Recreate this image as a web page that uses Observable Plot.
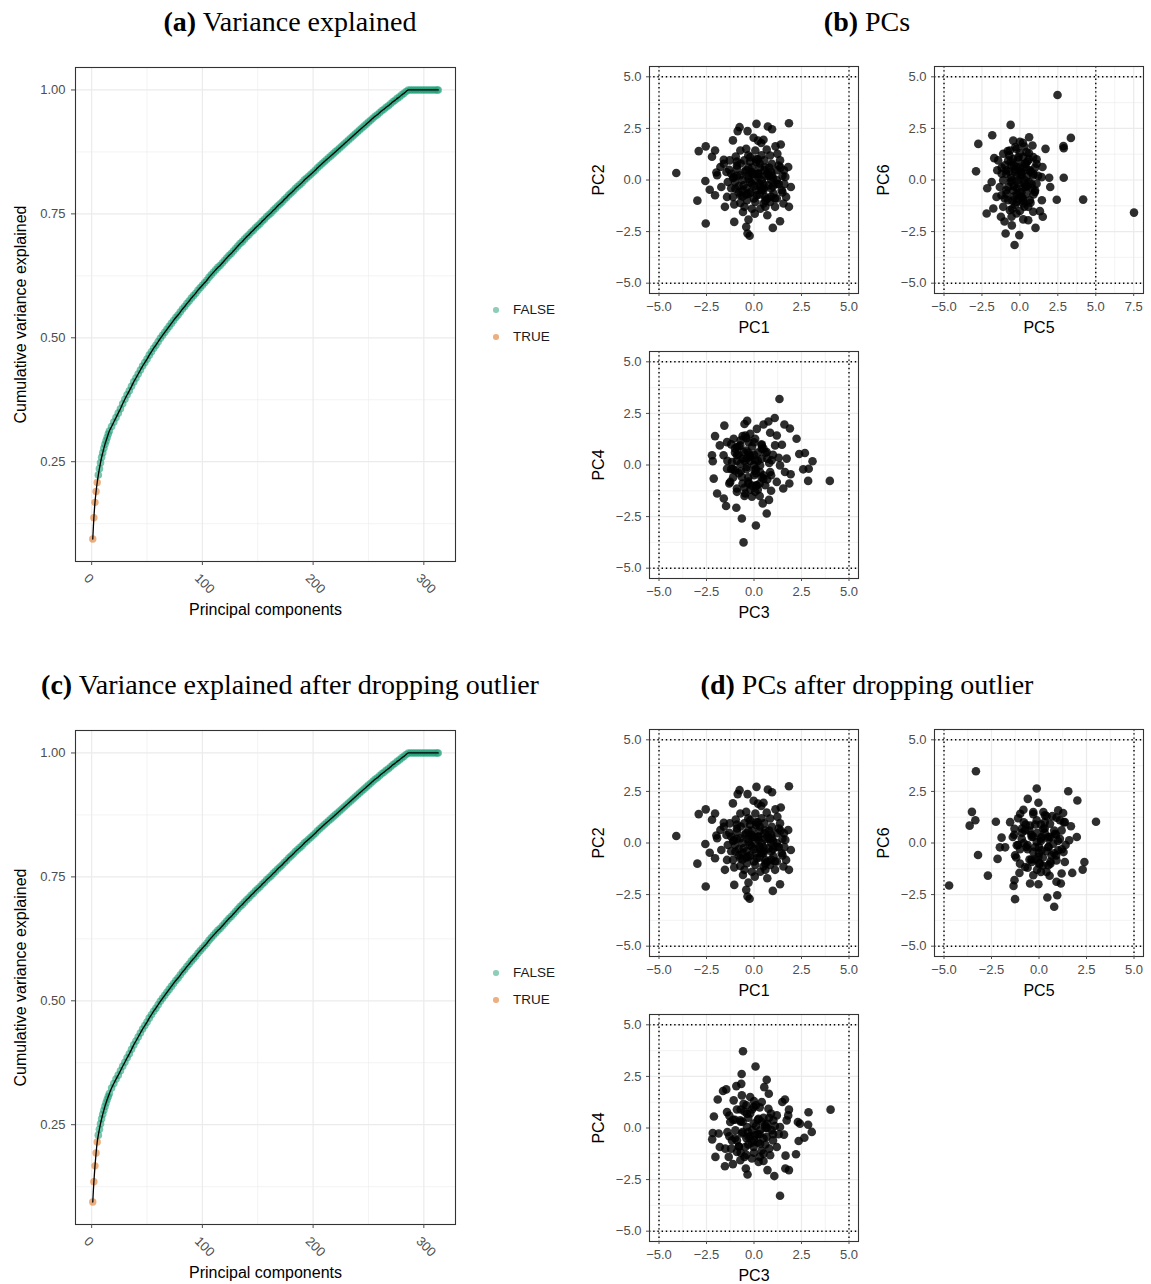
<!DOCTYPE html>
<html><head><meta charset="utf-8">
<script src="https://cdn.jsdelivr.net/npm/d3@7"></script>
<script src="https://cdn.jsdelivr.net/npm/@observablehq/plot@0.6"></script>
<style>
html,body{margin:0;padding:0;background:#fff;overflow:hidden;}
#fig{position:relative;width:1151px;height:1284px;background:#fff;font-family:"Liberation Sans",Arial,sans-serif;}
.title{position:absolute;font-family:"Liberation Serif","Times New Roman",serif;font-size:28px;line-height:34px;white-space:nowrap;transform:translateX(-50%);color:#000;}
.legtxt{position:absolute;font-size:13.5px;line-height:18px;color:#1a1a1a;white-space:nowrap;}
.legdot{position:absolute;width:5.6px;height:5.6px;border-radius:50%;}
</style></head>
<body><div id="fig"></div>
<script>
// ---------- Variance explained data ----------
const varPcs = [1,2,3,4,5,6,7,8,9,10,11,12,13,14,15,16,
  18,20,22,24,26,28,30,32,34,36,38,40,42,44,46,48,50,52,54,56,58,60,62,64,66,68,70,72,74,76,78,80,82,84,86,88,90,92,94,96,98,100,
  102,104,106,108,110,112,114,116,118,120,122,124,126,128,130,132,134,136,138,140,142,144,146,148,150,152,154,156,158,160,162,164,166,168,170,172,174,176,178,180,182,184,186,188,190,192,194,196,198,200,
  202,204,206,208,210,212,214,216,218,220,222,224,226,228,230,232,234,236,238,240,242,244,246,248,250,252,254,256,258,260,262,264,266,268,270,272,274,276,278,280,282,284,286,
  288,290,292,294,296,298,300,302,304,306,308,310,312,313];
const varValA = [0.094,0.137,0.168,0.190,0.208,0.223,0.236,0.248,0.259,0.268,0.277,0.285,0.292,0.299,0.306,0.312,
  0.321,0.330,0.339,0.348,0.357,0.367,0.376,0.385,0.393,0.402,0.411,0.419,0.427,0.435,0.443,0.450,0.457,0.465,0.472,0.479,0.485,0.492,0.499,0.505,0.511,0.517,0.523,0.529,0.535,0.541,0.546,0.552,0.558,0.563,0.569,0.574,0.580,0.585,0.590,0.596,0.601,0.606,
  0.611,0.616,0.622,0.627,0.632,0.637,0.642,0.646,0.651,0.656,0.661,0.666,0.670,0.675,0.680,0.685,0.690,0.694,0.699,0.704,0.708,0.713,0.717,0.722,0.726,0.730,0.735,0.739,0.744,0.748,0.752,0.757,0.761,0.766,0.770,0.774,0.779,0.783,0.788,0.792,0.796,0.801,0.805,0.809,0.813,0.818,0.822,0.826,0.830,0.834,
  0.838,0.843,0.847,0.851,0.855,0.859,0.863,0.867,0.871,0.875,0.879,0.883,0.887,0.891,0.895,0.899,0.903,0.907,0.911,0.915,0.919,0.923,0.927,0.931,0.935,0.939,0.943,0.947,0.950,0.954,0.958,0.961,0.965,0.968,0.972,0.976,0.979,0.983,0.986,0.990,0.993,0.997,1.000,
  1.000,1.000,1.000,1.000,1.000,1.000,1.000,1.000,1.000,1.000,1.000,1.000,1.000,1.000];
// (c): first components differ slightly after dropping the outlier (PCs 1-16, 18-30); the tail is shared
const varValCHead = [0.094,0.135,0.167,0.193,0.215,0.229,0.241,0.252,0.262,0.271,0.279,0.287,0.294,0.301,0.307,0.313,
  0.324,0.333,0.342,0.350,0.359,0.368,0.376];
const varValC = varValCHead.concat(varValA.slice(varValCHead.length));
const nTrueA = 5, nTrueC = 5;
const varXTicks = [0,100,200,300];
const varXMinor = [50,150,250];
const varYTicks = [0.25,0.50,0.75,1.00];
const varYMinor = [0.125,0.375,0.625,0.875];
const legendLabels = ["FALSE","TRUE"];
const legendColors = ["#1B9E77","#D95F02"];

// ---------- PC scatter data: (b) ----------
const b_pc1 = [-4.09,-2.54,-2.91,-2.05,-2.21,-2.56,-2.33,-2.98,-2.05,-2.54,-1.53,-1.04,-1.98,-1.59,-0.76,-0.86,-1.11,-0.34,0.13,0.73,0.95,1.84,-0.02,0.21,0.50,0.38,1.13,1.41,0.67,1.80,1.94,1.84,0.99,1.37,0.70,-0.23,-0.34,-0.41,-0.29,0.04,-0.58,-1.04,-0.72,0.33,1.11,1.55,1.69,1.65,1.58,1.37,1.23,-1.28,-1.77,-1.94,-1.72,-1.42,-0.96,-0.51,-0.20,0.12,0.54,0.94,1.20,0.94,0.54,0.24,-0.11,-0.41,-0.72,-1.07,-1.38,-0.98,-0.55,-0.11,0.33,0.77,1.20,1.46,1.03,0.59,0.15,-0.29,-0.72,-1.11,-0.37,0.07,0.50,0.85,-0.11,0.24,0.07,-0.29,0.41,-0.90,-0.72,-0.41,0.07,0.85,-1.45,-1.59,0.3,0.6,-0.4,0.9,0.1,-0.6,0.7,-0.2,0.5,1.0,-0.8,0.2,-0.3,0.8,1.3,-1.2,0.0,0.4,-0.5,1.5,0.6,-0.1,0.9,-0.9,0.3,
  -1.3,-1.0,-0.7,-0.4,-0.1,0.2,0.5,0.8,1.1,1.4,-1.2,-0.9,-0.6,-0.3,0.0,0.3,0.6,0.9,1.2,1.5,-1.1,-0.8,-0.5,-0.2,0.1,0.4,0.7,1.0,1.3,1.6,-0.9,-0.6,-0.3,0.0,0.3,0.6,0.9,1.2,-0.2,0.5];
const b_pc2 = [0.34,1.63,1.40,1.43,1.13,-0.05,-0.47,-1.00,-0.74,-2.11,-1.30,-2.03,0.36,0.98,2.56,2.37,1.92,2.37,2.72,2.59,2.46,2.75,2.05,1.91,1.95,1.79,1.63,1.72,1.47,0.63,-0.34,-1.30,-2.32,-2.00,-1.71,-2.70,-2.59,-2.27,-1.92,-1.63,-1.55,-1.18,-1.11,-1.39,-1.30,-1.14,-0.82,0.15,0.47,0.95,1.27,0.95,0.63,0.23,-0.34,-0.82,1.14,0.95,1.11,0.87,0.95,0.79,0.47,0.23,0.47,0.31,0.39,0.47,0.23,0.15,-0.10,-0.42,-0.26,-0.18,-0.34,-0.26,-0.18,-0.50,-0.66,-0.82,-0.74,-0.66,-0.74,-0.82,-0.98,-1.06,-1.14,-1.06,-1.39,0.15,-0.02,0.06,-0.02,0.55,1.43,1.51,1.43,1.19,0.39,0.79,0.6,0.2,-0.4,-0.4,-0.5,0.0,-0.9,0.9,-0.5,0.1,-0.3,0.3,0.2,0.6,-0.2,0.3,-0.9,1.2,-1.3,0.2,-1.3,0.6,-0.8,0.7,-0.2,
  0.5,-0.1,0.8,-0.7,0.3,1.0,-0.4,0.2,-0.9,0.6,-0.4,0.2,-0.8,0.6,-0.3,0.8,-1.0,0.4,0.0,-0.6,0.1,-0.6,0.4,-0.1,1.0,-0.5,0.3,-0.3,0.7,-0.2,0.9,-0.5,1.2,0.3,-0.7,0.6,0.0,-0.9,-0.6,-0.2];
const b_pc5 = [2.48,7.52,4.17,3.36,2.87,2.89,2.89,2.43,1.69,1.93,2.00,1.51,1.03,0.61,-0.61,-1.82,-2.74,-2.89,-2.15,-2.19,-1.75,-0.94,-0.04,-0.35,-0.53,-1.01,-1.25,-0.44,0.00,0.29,0.83,-1.86,-1.69,-1.49,1.45,1.32,0.88,0.55,0.22,-0.22,-0.66,-1.10,-1.54,-1.32,-1.43,-1.10,-0.66,-0.22,0.44,0.88,1.10,1.49,1.43,1.10,0.99,0.66,0.22,-0.22,-0.77,-1.21,-1.10,-0.88,-0.77,-0.44,-0.11,0.33,0.66,0.44,0.11,-0.33,-0.55,-0.11,0.33,0.00,-0.44,-0.77,0.44,0.77,-0.22,0.22,-0.55,-0.99,-0.88,0.11,0.88,0.55,-0.55,0.1,-0.3,0.4,-0.6,0.2,-0.2,0.7,-0.9,0.0,0.5,-0.5,0.3,-1.2,1.0,-0.1,0.6,-0.7,0.2,-0.4,0.9,
  -1.2,-0.9,-0.6,-0.3,0.0,0.3,0.6,0.9,1.2,-1.0,-0.7,-0.4,-0.1,0.2,0.5,0.8,1.1,-0.8,-0.5,-0.2,0.1,0.4,0.7,1.0,-0.6,-0.3,0.0,0.3,0.6,-0.4,-0.1,0.2,0.5,-0.2,0.1];
const b_pc6 = [4.12,-1.58,-0.95,2.04,1.64,1.54,0.11,-0.96,1.51,0.11,-0.34,-1.78,-2.32,2.07,2.67,2.17,1.75,0.42,-0.40,-1.62,-1.38,-2.59,-2.67,-3.15,-2.20,-2.01,-1.78,1.91,1.85,1.62,1.67,-0.10,1.06,0.47,-0.98,-1.51,-1.54,-1.95,-1.91,-1.62,-1.46,-1.30,-0.82,-0.34,0.95,1.27,1.43,1.51,1.35,1.11,0.79,0.63,0.14,-0.18,-0.58,-0.98,-1.14,-1.06,-0.98,-0.74,-0.02,0.47,0.95,1.03,0.95,0.79,0.47,0.14,0.31,0.39,-0.02,-0.18,-0.34,-0.58,-0.50,-0.34,-0.66,-0.18,0.63,1.11,0.71,0.71,-0.66,-0.82,0.22,-1.30,-1.78,0.2,0.5,-0.3,0.1,-0.9,-0.4,0.4,0.3,1.3,0.9,-1.0,-1.3,0.6,-0.5,0.0,-0.1,1.2,0.6,-0.8,0.3,
  0.3,-0.5,0.9,-1.2,0.6,-0.2,1.3,-0.7,0.2,-0.9,0.4,-0.3,1.1,-1.0,0.5,-0.4,1.0,1.4,-1.4,0.2,-0.6,0.8,-1.1,0.6,-0.1,1.6,-1.5,0.0,1.0,0.7,-0.9,1.8,-0.3,-0.7,0.4];
const b_pc3 = [1.34,3.99,2.85,2.59,2.88,3.08,2.68,2.38,2.24,1.89,1.60,1.09,0.76,0.50,-0.36,-0.50,-1.56,-2.05,-2.21,-2.17,-2.12,-1.94,-1.59,-1.47,-0.93,-0.64,0.10,-0.55,0.67,0.79,0.46,0.90,1.54,1.86,1.93,1.63,1.72,1.30,1.47,1.20,0.85,-0.11,-0.46,-0.90,-1.25,-1.42,-1.60,-1.80,-1.42,-1.07,-0.72,-0.29,0.06,0.41,0.67,0.93,0.85,0.50,0.15,-0.29,-0.64,-0.99,-1.16,-0.90,-0.55,-0.20,0.06,0.32,0.03,-0.38,-0.72,-0.38,0.32,0.59,0.06,0.41,-0.20,0.15,-0.90,-0.46,1.11,1.37,1.20,-0.5,0.0,-0.3,0.2,-0.8,0.4,-0.1,-0.6,0.7,-1.0,0.1,-0.4,0.5,-0.7,0.3,-1.2,0.9,-0.2,0.0,-0.9,
  -1.4,-1.1,-0.8,-0.5,-0.2,0.1,0.4,0.7,1.0,-1.3,-1.0,-0.7,-0.4,-0.1,0.2,0.5,0.8,-1.2,-0.9,-0.6,-0.3,0.0,0.3,0.6,-1.1,-0.8,-0.5,-0.2,0.1,0.4,-0.6,-0.3,0.0,-0.4,0.2];
const b_pc4 = [3.20,-0.77,-0.77,-0.21,-0.18,0.18,0.58,0.53,1.27,1.77,1.96,2.28,2.11,1.96,2.14,1.99,1.91,1.40,0.47,0.18,-0.66,-1.38,-1.62,-1.99,-2.07,-2.59,-2.93,-3.75,-2.35,-1.69,-1.86,-1.25,-1.14,-0.90,-0.45,-0.34,0.31,0.35,0.98,1.43,1.56,-1.54,-1.38,-1.14,-0.82,-0.18,0.47,0.95,1.11,1.27,0.95,1.11,1.27,0.95,0.63,0.23,-0.34,-0.66,-0.98,-0.90,-0.58,-0.26,0.14,0.47,0.63,0.47,0.23,-0.02,-0.26,-0.10,0.06,0.31,-0.34,-0.98,-1.30,0.79,1.51,1.75,0.87,1.43,0.95,-0.02,-0.82,0.2,-0.5,0.6,0.2,-0.4,-0.6,0.9,-0.9,0.3,0.6,-1.0,-0.2,0.8,1.2,-1.5,-0.2,-0.5,-1.2,0.5,0.2,
  0.2,-0.6,0.9,-1.1,0.4,-0.2,1.0,-0.7,0.5,-0.9,0.8,-0.3,1.3,-1.0,0.6,-0.5,0.1,1.0,-1.3,0.3,-0.6,1.1,-0.9,0.6,-0.2,0.5,-1.5,0.2,-0.4,0.3,1.4,-0.8,0.0,0.7,-1.2];

// ---------- PC scatter data: (d) after dropping outlier ----------
const d_pc1 = b_pc1;
const d_pc2 = b_pc2;
const d_pc5 = [-3.32,-3.53,-3.35,-3.65,-3.21,-4.73,-2.69,-2.18,-2.27,-1.97,-2.06,-1.78,-0.12,-0.59,-0.03,1.54,2.02,3.00,1.99,2.39,2.30,1.75,0.96,0.44,0.80,-1.26,-1.34,-1.29,-1.03,-0.47,-0.03,-0.30,0.10,0.56,0.92,1.15,1.19,1.36,1.29,1.59,1.68,1.36,1.01,1.27,0.92,0.31,-0.82,-0.99,-1.52,-1.29,-1.38,-1.17,-1.26,-1.00,-0.73,-0.38,0.05,0.49,0.92,1.01,0.75,0.49,0.23,-0.12,-0.47,-0.73,-0.91,-0.65,-0.30,0.14,0.49,-0.12,0.14,-0.38,0.84,1.19,0.58,-0.03,0.23,0.66,0.1,-0.4,0.5,-0.6,0.2,-0.2,0.8,-0.9,0.4,-0.5,0.6,-1.1,1.1,0.0,-0.3,0.9,-0.8,0.3,-0.1,1.3,
  -1.3,-1.0,-0.7,-0.4,-0.1,0.2,0.5,0.8,1.1,1.4,-1.2,-0.9,-0.6,-0.3,0.0,0.3,0.6,0.9,1.2,-1.1,-0.8,-0.5,-0.2,0.1,0.4,0.7,1.0,-0.6,-0.3,0.0,0.3,0.6,-0.2,0.1,0.4];
const d_pc6 = [3.48,1.51,1.10,0.84,-0.58,-2.06,-1.58,-0.77,1.03,0.26,-0.21,-0.21,2.64,2.14,1.95,2.51,2.06,1.03,0.29,-0.92,-1.29,-1.45,-2.53,-2.64,-3.09,-2.72,-2.08,-1.80,-1.45,-1.96,-2.00,-1.56,-1.40,-1.59,-1.88,-1.96,-1.48,-0.92,-0.44,0.13,0.81,1.01,1.58,1.45,1.23,1.34,1.61,1.42,1.01,0.69,0.29,-0.11,-0.60,-1.00,-1.16,-0.92,-1.00,-1.08,-0.84,-0.35,-0.03,0.29,0.69,1.10,0.85,0.61,0.21,-0.19,-0.43,-0.35,-0.19,0.05,0.29,0.29,0.45,0.61,0.93,-0.68,1.50,-0.60,0.2,0.4,-0.2,-0.3,-0.7,0.9,0.6,0.5,1.3,-0.8,-1.0,-0.1,0.2,-0.2,1.5,-0.6,1.0,0.5,-1.3,1.0,
  0.4,-0.3,0.9,-0.8,0.5,-1.1,0.2,-0.5,1.1,-0.1,-0.7,0.7,-1.2,0.3,-0.5,1.0,-0.9,0.4,-0.3,1.2,0.0,0.6,-0.8,0.9,-0.4,1.3,0.1,-0.1,1.4,-1.0,0.7,0.3,-0.2,0.1,-1.4];
const d_pc3 = [-0.58,0.08,-0.65,0.67,4.03,2.87,2.85,3.04,2.35,2.21,2.65,1.84,1.65,1.66,1.37,1.07,0.71,0.24,-0.34,-0.43,-1.11,-1.53,-2.03,-1.80,-2.20,-2.17,-1.86,-2.11,-1.91,-1.63,-1.46,-0.93,-0.67,0.54,0.78,1.63,1.49,1.84,1.80,2.31,2.42,1.58,1.20,1.20,0.85,-1.42,-1.25,-1.51,-1.33,-0.90,-0.72,-0.11,0.50,0.32,-0.02,-0.46,-0.90,-0.98,-0.72,-0.37,-0.02,0.41,0.76,1.02,0.93,0.67,0.32,-0.02,-0.37,-0.64,-0.29,0.06,0.59,0.24,-0.55,-0.20,-1.07,1.37,1.72,-1.16,-0.64,-0.4,0.2,-0.6,0.4,-0.2,0.6,-0.8,0.0,-1.0,0.8,-0.3,0.1,-0.5,0.5,-1.3,1.0,-0.7,0.3,-0.1,0.7,
  -1.4,-1.1,-0.8,-0.5,-0.2,0.1,0.4,0.7,1.0,1.3,-1.3,-1.0,-0.7,-0.4,-0.1,0.2,0.5,0.8,1.1,-1.2,-0.9,-0.6,-0.3,0.0,0.3,0.6,0.9,-0.7,-0.4,-0.1,0.2,0.5,-0.3,0.0,0.3];
const d_pc4 = [3.72,2.98,2.62,2.34,0.89,0.76,0.16,-0.19,-0.63,-1.27,-0.47,-2.04,-1.96,-1.34,-3.28,-2.33,-2.04,-1.64,-2.25,-1.96,-1.75,-1.85,-1.40,-0.92,-0.55,-0.24,-0.27,0.56,1.38,1.79,1.87,2.03,2.14,1.98,1.66,1.38,1.26,0.89,0.61,0.29,0.21,-0.32,0.61,-0.92,-1.32,0.77,0.29,-1.00,-1.40,-1.16,-1.56,-1.48,-1.24,-0.76,-0.92,-0.92,-0.60,-0.11,0.37,0.69,1.01,1.26,0.93,0.37,-0.11,-0.43,-0.11,0.21,0.05,-0.27,-0.43,-0.35,0.13,0.45,1.17,1.50,1.34,0.05,0.37,-0.60,1.58,-0.5,-0.3,0.3,0.3,0.7,-0.8,-0.9,-1.2,0.4,0.5,-0.2,0.1,-1.4,-1.6,-0.4,-0.3,0.9,1.0,-0.7,0.0,
  -0.2,0.4,-0.9,0.8,-0.4,1.1,-1.1,0.2,-0.6,-0.3,0.6,-0.5,0.3,-1.3,0.9,-0.7,0.5,-1.0,0.1,-1.0,0.9,-0.2,0.5,-0.6,-1.4,0.0,0.7,-1.2,1.1,-0.1,0.4,-0.5,-0.8,1.3,-0.3];

const scatTicks = [-5,-2.5,0,2.5,5];
const scatTicksWide = [-5,-2.5,0,2.5,5,7.5];
const refLines = [-5,5];

// ---------- helpers ----------
const FONT = '"Liberation Sans", Arial, Helvetica, sans-serif';
const fig = document.getElementById("fig");
function expand([lo,hi], f=0.05){ const p=(hi-lo)*f; return [lo-p, hi+p]; }
function midpoints(t){ return t.slice(1).map((v,i)=>(v+t[i])/2); }
function place(el, left, top){ el.style.position="absolute"; el.style.left=left+"px"; el.style.top=top+"px"; fig.appendChild(el); }
function title(bold, rest, cx, cy){
  const d=document.createElement("div"); d.className="title";
  d.innerHTML = `<b>${bold}</b> ${rest}`;
  d.style.left=cx+"px"; d.style.top=(cy-17)+"px"; fig.appendChild(d);
}
function legend(x, y){
  legendLabels.forEach((lab,i)=>{
    const cy = y + i*27;
    const dot=document.createElement("div"); dot.className="legdot";
    dot.style.background=legendColors[i]; dot.style.opacity=0.5;
    dot.style.left=(x-2.8)+"px"; dot.style.top=(cy-2.8)+"px"; fig.appendChild(dot);
    const t=document.createElement("div"); t.className="legtxt"; t.textContent=lab;
    t.style.left=(x+17)+"px"; t.style.top=(cy-9)+"px"; fig.appendChild(t);
  });
}

function varPlot(vals, nTrue){
  const n = Math.min(varPcs.length, vals.length);
  const data = varPcs.slice(0, n).map((pc,i)=>({pc, v: vals[i], grp: pc <= nTrue ? "TRUE" : "FALSE"}));
  const xd = expand(d3.extent(varPcs));
  const yd = expand(d3.extent(vals));
  return Plot.plot({
    width: 470, height: 590, marginLeft: 75, marginRight: 15, marginTop: 17, marginBottom: 79,
    style: {fontFamily: FONT, fontSize: "13px", color: "#4d4d4d", background: "transparent", overflow: "visible"},
    x: {domain: xd, label: null},
    y: {domain: yd, label: null},
    color: {domain: legendLabels, range: legendColors},
    marks: [
      Plot.ruleX(varXMinor, {stroke: "#ebebeb", strokeWidth: 0.6}),
      Plot.ruleY(varYMinor, {stroke: "#ebebeb", strokeWidth: 0.6}),
      Plot.ruleX(varXTicks, {stroke: "#ebebeb", strokeWidth: 1.2}),
      Plot.ruleY(varYTicks, {stroke: "#ebebeb", strokeWidth: 1.2}),
      Plot.dot(data.filter(d=>d.grp==="FALSE"), {x: "pc", y: "v", r: 3.8, fill: "grp", fillOpacity: 0.6}),
      Plot.dot(data.filter(d=>d.grp==="TRUE"), {x: "pc", y: "v", r: 3.7, fill: "grp", fillOpacity: 0.5}),
      Plot.line(data, {x: "pc", y: "v", stroke: "black", strokeWidth: 1.3, curve: "catmull-rom"}),
      Plot.frame({stroke: "#333333", strokeWidth: 1.1}),
      Plot.axisY(varYTicks, {tickFormat: d3.format(".2f"), tickSize: 4, tickPadding: 6, label: null, fontSize: 13}),
      Plot.axisX(varXTicks, {tickFormat: () => "", tickSize: 4, label: null}),
      Plot.text(varXTicks, {x: d => d, frameAnchor: "bottom", text: d => String(d), rotate: 45, textAnchor: "start", lineAnchor: "middle", dx: -5.5, dy: 14.5, fontSize: 13, fill: "#4d4d4d"}),
      Plot.text(["Cumulative variance explained"], {frameAnchor: "left", text: d => d, rotate: -90, dx: -55, textAnchor: "middle", lineAnchor: "middle", fontSize: 16, fill: "#000"}),
      Plot.text(["Principal components"], {frameAnchor: "bottom", text: d => d, dy: 48, textAnchor: "middle", lineAnchor: "middle", fontSize: 16, fill: "#000"})
    ]
  });
}

function scatter(xs, ys, xlab, ylab, xTicks, width){
  const pts = xs.map((x,i)=>({x, y: ys[i]}));
  const xd = expand([Math.min(-5, d3.min(xs)), Math.max(5, d3.max(xs))]);
  const yd = expand([Math.min(-5, d3.min(ys)), Math.max(5, d3.max(ys))]);
  return Plot.plot({
    width: width, height: 290, marginLeft: 69, marginRight: width - 69 - 209, marginTop: 16, marginBottom: 47,
    style: {fontFamily: FONT, fontSize: "13px", color: "#4d4d4d", background: "transparent", overflow: "visible"},
    x: {domain: xd, label: null},
    y: {domain: yd, label: null},
    marks: [
      Plot.ruleX(midpoints(xTicks), {stroke: "#ebebeb", strokeWidth: 0.6}),
      Plot.ruleY(midpoints(scatTicks), {stroke: "#ebebeb", strokeWidth: 0.6}),
      Plot.ruleX(xTicks, {stroke: "#ebebeb", strokeWidth: 1.2}),
      Plot.ruleY(scatTicks, {stroke: "#ebebeb", strokeWidth: 1.2}),
      Plot.ruleX(refLines, {stroke: "#000", strokeWidth: 1.4, strokeDasharray: "1.4,2.8"}),
      Plot.ruleY(refLines, {stroke: "#000", strokeWidth: 1.4, strokeDasharray: "1.4,2.8"}),
      Plot.dot(pts, {x: "x", y: "y", r: 4.3, fill: "#000", fillOpacity: 0.82}),
      Plot.frame({stroke: "#333333", strokeWidth: 1.1}),
      Plot.axisY(scatTicks, {tickFormat: d3.format(".1f"), tickSize: 3, tickPadding: 5, label: null, fontSize: 13}),
      Plot.axisX(xTicks, {tickFormat: d3.format(".1f"), tickSize: 3, tickPadding: 5, label: null, fontSize: 13}),
      Plot.text([ylab], {frameAnchor: "left", text: d => d, rotate: -90, dx: -51, textAnchor: "middle", lineAnchor: "middle", fontSize: 16, fill: "#000"}),
      Plot.text([xlab], {frameAnchor: "bottom", text: d => d, dy: 34, textAnchor: "middle", lineAnchor: "middle", fontSize: 16, fill: "#000"})
    ]
  });
}

// ---------- layout ----------
title("(a)", "Variance explained", 290, 22);
title("(b)", "PCs", 867, 22);
title("(c)", "Variance explained after dropping outlier", 290, 685);
title("(d)", "PCs after dropping outlier", 867, 685);

place(varPlot(varValA, nTrueA), 0, 50);
legend(496, 310);
place(varPlot(varValC, nTrueC), 0, 713);
legend(496, 973);

place(scatter(b_pc1, b_pc2, "PC1", "PC2", scatTicks, 290), 580, 50);
place(scatter(b_pc5, b_pc6, "PC5", "PC6", scatTicksWide, 286), 865, 50);
place(scatter(b_pc3, b_pc4, "PC3", "PC4", scatTicks, 290), 580, 335);

place(scatter(d_pc1, d_pc2, "PC1", "PC2", scatTicks, 290), 580, 713);
place(scatter(d_pc5, d_pc6, "PC5", "PC6", scatTicks, 286), 865, 713);
place(scatter(d_pc3, d_pc4, "PC3", "PC4", scatTicks, 290), 580, 998);
</script>
</body></html>
